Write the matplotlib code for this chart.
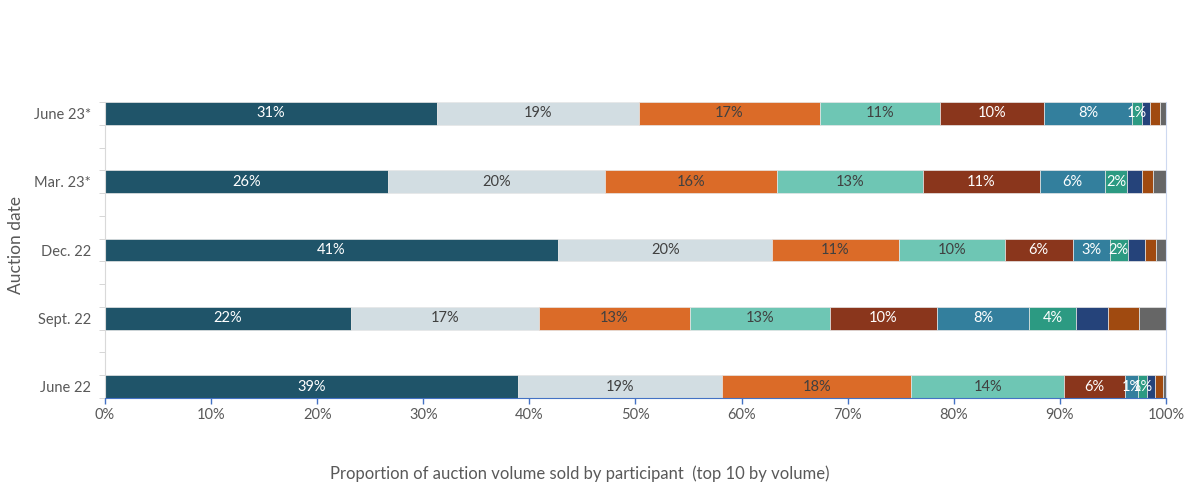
import matplotlib.pyplot as plt
import numpy as np
from matplotlib.ticker import FixedLocator, PercentFormatter

plt.rcParams["font.family"] = ["Lato", "DejaVu Sans"]

dates = ["June 23*", "Mar. 23*", "Dec. 22", "Sept. 22", "June 22"]

# bar widths, % of top-10 volume, participant 1..10
p1 = [31.3, 26.7, 42.7, 23.2, 38.9]
p2 = [19.0, 20.4, 20.2, 17.7, 19.3]
p3 = [17.1, 16.2, 11.9, 14.2, 17.8]
p4 = [11.3, 13.8, 10.0, 13.2, 14.4]
p5 = [9.8, 11.0, 6.4, 10.1, 5.7]
p6 = [8.3, 6.2, 3.5, 8.7, 1.3]
p7 = [0.9, 2.0, 1.7, 4.4, 0.8]
p8 = [0.8, 1.4, 1.6, 3.0, 0.8]
p9 = [0.9, 1.1, 1.1, 3.0, 0.7]
p10 = [0.6, 1.2, 0.9, 2.5, 0.3]

# data labels shown on the chart (share of total volume), first 7 participants
l1 = ["31%", "26%", "41%", "22%", "39%"]
l2 = ["19%", "20%", "20%", "17%", "19%"]
l3 = ["17%", "16%", "11%", "13%", "18%"]
l4 = ["11%", "13%", "10%", "13%", "14%"]
l5 = ["10%", "11%", "6%", "10%", "6%"]
l6 = ["8%", "6%", "3%", "8%", "1%"]
l7 = ["1%", "2%", "2%", "4%", "1%"]

series = [p1, p2, p3, p4, p5, p6, p7, p8, p9, p10]
labels = [l1, l2, l3, l4, l5, l6, l7]
colors = ["#1f5469", "#d2dde2", "#db6b28", "#6ec6b4", "#8a361c",
          "#337f9d", "#2c9a82", "#25437a", "#a04a10", "#666666"]
text_colors = ["white", "#404040", "#404040", "#404040", "white", "white", "white"]

fig = plt.figure(figsize=(11.9, 4.88), dpi=100)
ax = fig.add_axes([0.0882, 0.1844, 0.8916, 0.6066])

# 13 category slots, bars sit in every third one
ypos = np.array([0.5, 3.5, 6.5, 9.5, 12.5])
left = np.zeros(len(dates))
for i, vals in enumerate(series):
    vals = np.array(vals) / 100
    ax.barh(ypos, vals, left=left, height=1.0, color=colors[i],
            edgecolor="#e6e6e6", linewidth=0.5)
    if i < len(labels):
        for y, x0, w, t in zip(ypos, left, vals, labels[i]):
            ax.text(x0 + w / 2, y, t, ha="center", va="center",
                    fontsize=10.5, color=text_colors[i])
    left += vals

ax.set_xlim(0, 1)
ax.set_ylim(13, 0)
ax.xaxis.set_major_locator(FixedLocator(np.arange(0, 1.01, 0.1)))
ax.xaxis.set_major_formatter(PercentFormatter(1.0, decimals=0))
ax.set_yticks(ypos)
ax.set_yticklabels(dates)
ax.yaxis.set_minor_locator(FixedLocator(np.arange(0, 14)))

ax.tick_params(axis="x", colors="#4472c4", length=4, width=1,
               labelcolor="#595959", labelsize=10.5, pad=3)
ax.tick_params(axis="y", which="major", length=0, labelcolor="#595959",
               labelsize=10.5, pad=10)
ax.tick_params(axis="y", which="minor", length=4, color="#d0d0d0")

ax.spines["top"].set_visible(False)
ax.spines["left"].set_color("#d9d9d9")
ax.spines["bottom"].set_color("#4472c4")
ax.spines["right"].set_color("#cdd9f0")
ax.spines["right"].set_linewidth(0.8)

fig.text(0.487, 0.029, "Proportion of auction volume sold by participant  (top 10 by volume)",
         ha="center", va="center", fontsize=12, color="#595959")
fig.text(0.0134, 0.498, "Auction date", rotation=90, ha="center", va="center",
         fontsize=12.5, color="#595959")

fig.savefig("out.png", dpi=100)
